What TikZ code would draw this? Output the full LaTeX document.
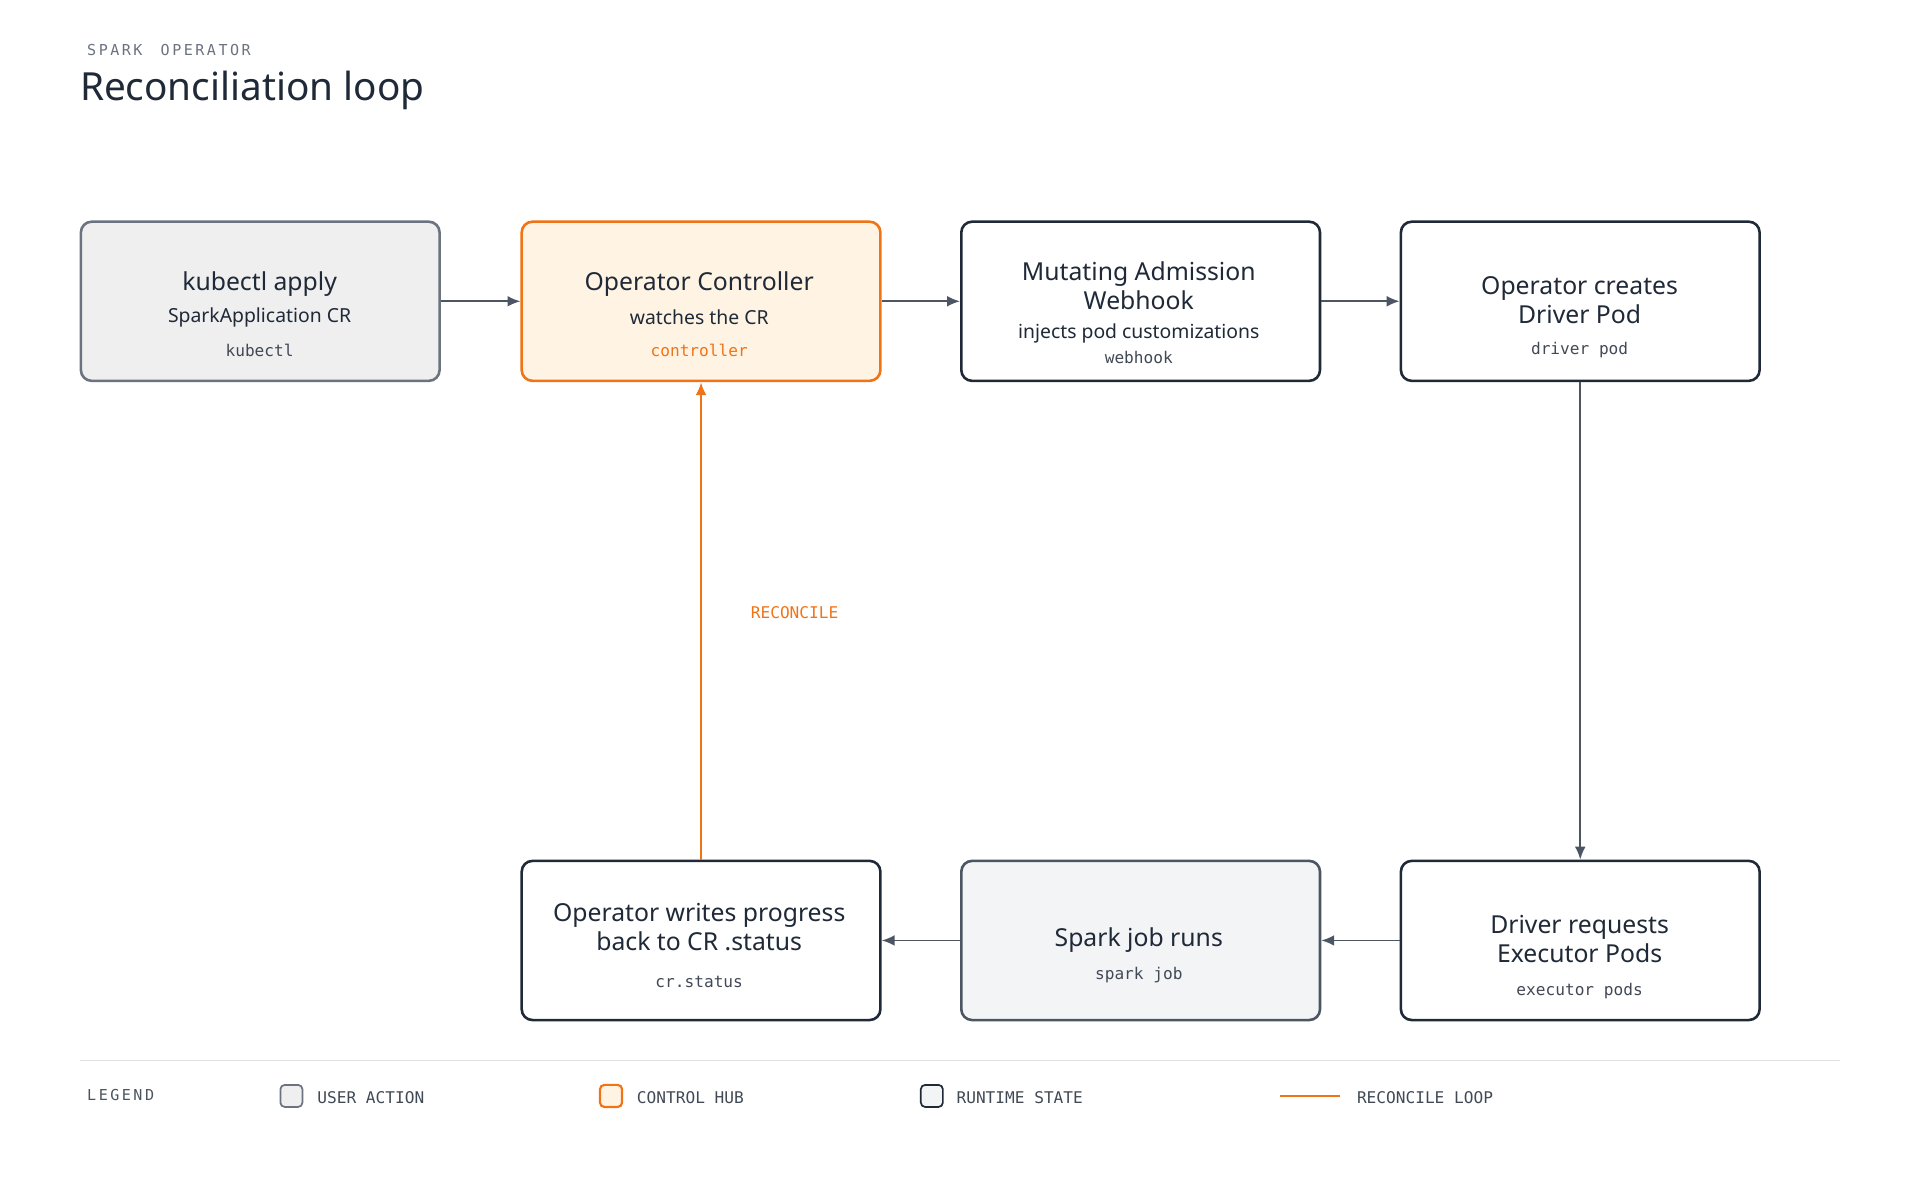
\documentclass[tikz,border=0pt]{standalone}
\usepackage{fontspec}
\setmainfont{Noto Sans}
\setmonofont{DejaVu Sans Mono}
\usetikzlibrary{arrows.meta}
\definecolor{ink}{HTML}{1F2937}
\definecolor{orng}{HTML}{F07316}
\definecolor{ofill}{HTML}{FFF4E4}
\definecolor{gfill}{HTML}{EFEFEF}
\definecolor{sfill}{HTML}{F3F4F6}
\definecolor{gline}{HTML}{6B7280}
\definecolor{arr}{HTML}{4B5563}
\definecolor{muted}{HTML}{6B7280}
\begin{document}
\begin{tikzpicture}[x=0.02cm,y=-0.02cm,
 box/.style={draw=ink,line width=1.2pt,rounded corners=5pt,minimum width=5.86cm,minimum height=2.6cm,align=center,anchor=north west,fill=white},
 ttl/.style={font=\fontsize{11.5}{13.5}\selectfont\bfseries,text=ink},
 sub/.style={font=\fontsize{9}{11}\selectfont,text=ink},
 code/.style={font=\fontsize{7.5}{9}\ttfamily,text=ink!85},
 conn/.style={draw=arr,line width=0.8pt,-{Latex[length=6pt,width=5pt]}},
 lg/.style={font=\fontsize{7.5}{9}\ttfamily,text=ink!85,anchor=west}]
\useasboundingbox (0,0) rectangle (1568,980);
\node[anchor=west,font=\fontsize{7}{8}\ttfamily,text=muted] at (65,41) {S\,P\,A\,R\,K\ \ O\,P\,E\,R\,A\,T\,O\,R};
\node[anchor=west,font=\fontsize{18}{20}\selectfont\bfseries,text=ink,inner sep=0] at (65,74) {Reconciliation loop};

\node[box,draw=gline,fill=gfill] (a) at (65,180) {};
\node[box,draw=orng,fill=ofill] (b) at (425,180) {};
\node[box] (c) at (784,180) {};
\node[box] (d) at (1143,180) {};
\node[box] (e) at (425,702) {};
\node[box,draw=arr,fill=sfill] (f) at (784,702) {};
\node[box] (g) at (1143,702) {};

\node[ttl] at (212,232) {kubectl apply};
\node[sub] at (212,259) {SparkApplication CR};
\node[code] at (212,286) {kubectl};
\node[ttl] at (571,232) {Operator Controller};
\node[sub] at (571,259) {watches the CR};
\node[code,text=orng] at (571,286) {controller};
\node[ttl,align=center] at (930,233) {Mutating Admission\\Webhook};
\node[sub] at (930,272) {injects pod customizations};
\node[code] at (930,292) {webhook};
\node[ttl,align=center] at (1290,245) {Operator creates\\Driver Pod};
\node[code] at (1290,286) {driver pod};
\node[ttl,align=center] at (571,757) {Operator writes progress\\back to CR .status};
\node[code] at (571,802) {cr.status};
\node[ttl] at (930,768) {Spark job runs};
\node[code] at (930,796) {spark job};
\node[ttl,align=center] at (1290,767) {Driver requests\\Executor Pods};
\node[code] at (1290,809) {executor pods};

\draw[conn] (a.east) -- (b.west);
\draw[conn] (b.east) -- (c.west);
\draw[conn] (c.east) -- (d.west);
\draw[conn] (d.south) -- (g.north);
\draw[conn] (g.west) -- (f.east);
\draw[conn] (f.west) -- (e.east);
\draw[conn,draw=orng,fill=orng,line width=1.1pt] (e.north) -- (b.south);
\node[code,text=orng,anchor=west] at (607,500) {RECONCILE};

\draw[draw=gray!25,line width=0.6pt] (65,866) -- (1503,866);
\node[anchor=west,font=\fontsize{7}{8}\ttfamily,text=ink!80] at (65,894) {L\,E\,G\,E\,N\,D};
\draw[draw=gline,fill=gfill,rounded corners=2pt,line width=0.8pt] (229,886) rectangle (247,904);
\node[lg] at (253,896) {USER ACTION};
\draw[draw=orng,fill=ofill,rounded corners=2pt,line width=1pt] (490,886) rectangle (508,904);
\node[lg] at (514,896) {CONTROL HUB};
\draw[draw=ink,fill=sfill,rounded corners=2pt,line width=0.8pt] (752,886) rectangle (770,904);
\node[lg] at (775,896) {RUNTIME STATE};
\draw[draw=orng,line width=1.2pt] (1045,895) -- (1094,895);
\node[lg] at (1102,896) {RECONCILE LOOP};
\end{tikzpicture}
\end{document}
